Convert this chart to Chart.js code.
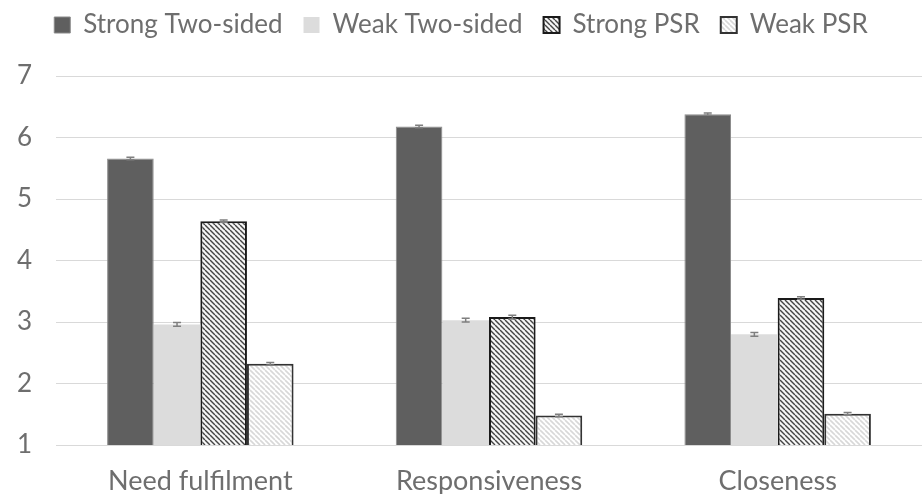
<!DOCTYPE html>
<html>
<head>
<meta charset="utf-8">
<script src="https://cdn.jsdelivr.net/npm/chart.js@4/dist/chart.umd.min.js"></script>
<style>
  html, body { margin: 0; padding: 0; background: #fff; }
  #wrap { width: 922px; height: 494px; }
</style>
</head>
<body>
<div id="wrap"><canvas id="psrChart"></canvas></div>
<script>
// data
const categories = ['Need fulfilment', 'Responsiveness', 'Closeness'];
const seriesNames = ['Strong Two-sided', 'Weak Two-sided', 'Strong PSR', 'Weak PSR'];
const strongTwoSided = [5.66, 6.18, 6.38];
const weakTwoSided = [2.96, 3.03, 2.80];
const strongPSR = [4.64, 3.08, 3.39];
const weakPSR = [2.32, 1.48, 1.51];
const errStrongTwoSided = [0.02, 0.02, 0.02];
const errWeakTwoSided = [0.03, 0.03, 0.03];
const errStrongPSR = [0.02, 0.03, 0.02];
const errWeakPSR = [0.02, 0.02, 0.02];
const yTicks = [1, 2, 3, 4, 5, 6, 7];

const textColor = '#6e6e6e';
const fontFamily = 'Lato';

// diagonal hatch, stripes running top-left to bottom-right
function hatch(stripe, bg, w) {
    const s = 5;
    const c = document.createElement('canvas');
    c.width = s; c.height = s;
    const g = c.getContext('2d');
    g.fillStyle = bg;
    g.fillRect(0, 0, s, s);
    g.strokeStyle = stripe;
    g.lineWidth = w;
    for (let x = -s; x <= s; x += s) {
        g.beginPath();
        g.moveTo(x, 0);
        g.lineTo(x + s, s);
        g.stroke();
    }
    return g.createPattern(c, 'repeat');
}

const ctx = document.getElementById('psrChart').getContext('2d');
const darkHatch = hatch('#444444', '#f6f6f6', 1.4);
const lightHatch = hatch('#d8d8d8', '#ffffff', 1.6);

// small error bars with caps
const errorBars = {
    id: 'errorBars',
    afterDatasetsDraw(chart) {
        const c = chart.ctx;
        const y = chart.scales.y;
        c.save();
        c.strokeStyle = '#7f7f7f';
        c.lineWidth = 1.5;
        chart.data.datasets.forEach((ds, i) => {
            chart.getDatasetMeta(i).data.forEach((bar, j) => {
                const v = ds.data[j], e = ds.errors[j];
                const top = y.getPixelForValue(v + e);
                const bot = y.getPixelForValue(v - e);
                c.beginPath();
                c.moveTo(bar.x, top); c.lineTo(bar.x, bot);
                c.moveTo(bar.x - 4, top); c.lineTo(bar.x + 4, top);
                c.moveTo(bar.x - 4, bot); c.lineTo(bar.x + 4, bot);
                c.stroke();
            });
        });
        c.restore();
    }
};

// fix the legend block height so the plot starts where the original does
const legendHeight = {
    id: 'legendHeight',
    beforeInit(chart) {
        const fit = chart.legend.fit;
        chart.legend.fit = function () {
            fit.call(this);
            this.height = 85;
        };
    }
};

new Chart(ctx, {
    type: 'bar',
    data: {
        labels: categories,
        datasets: [
            { label: seriesNames[0], data: strongTwoSided, errors: errStrongTwoSided,
              backgroundColor: '#5f5f5f', borderColor: '#8a8a8a', borderWidth: 1 },
            { label: seriesNames[1], data: weakTwoSided, errors: errWeakTwoSided,
              backgroundColor: '#dcdcdc', borderWidth: 0 },
            { label: seriesNames[2], data: strongPSR, errors: errStrongPSR,
              backgroundColor: darkHatch, borderColor: '#1a1a1a', borderWidth: 2 },
            { label: seriesNames[3], data: weakPSR, errors: errWeakPSR,
              backgroundColor: lightHatch, borderColor: '#333333', borderWidth: 2 }
        ]
    },
    options: {
        responsive: true,
        maintainAspectRatio: false,
        animation: false,
        layout: { padding: { top: -9, left: 0, right: 0, bottom: 0 } },
        datasets: {
            bar: { barPercentage: 1, categoryPercentage: 0.646 }
        },
        scales: {
            x: {
                grid: { display: false },
                border: { display: false },
                ticks: {
                    color: textColor,
                    font: { family: fontFamily, size: 27 },
                    padding: 12
                },
                afterFit: (axis) => { axis.height = 49; }
            },
            y: {
                min: 1,
                max: 7,
                afterBuildTicks: (axis) => { axis.ticks = yTicks.map(v => ({ value: v })); },
                afterFit: (axis) => { axis.width = 56; },
                grid: { color: '#d9d9d9', lineWidth: 1, drawTicks: false },
                border: { display: false },
                ticks: {
                    color: textColor,
                    font: { family: fontFamily, size: 26 },
                    padding: 24
                }
            }
        },
        plugins: {
            legend: {
                position: 'top',
                labels: {
                    color: textColor,
                    font: { family: fontFamily, size: 26 },
                    boxWidth: 16,
                    boxHeight: 16,
                    padding: 21,
                    useBorderRadius: false
                }
            },
            tooltip: { enabled: false }
        }
    },
    plugins: [errorBars, legendHeight]
});
</script>
</body>
</html>
